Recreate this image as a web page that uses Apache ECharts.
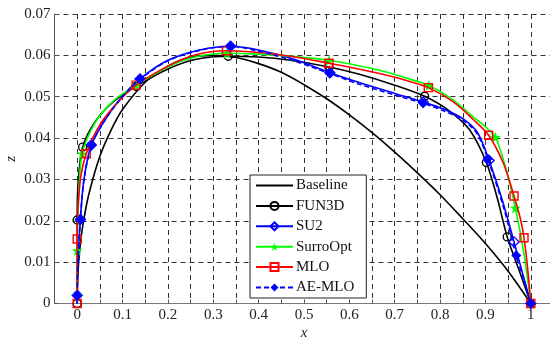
<!DOCTYPE html>
<html>
<head>
<meta charset="utf-8">
<script src="https://cdn.jsdelivr.net/npm/echarts@6/dist/echarts.min.js"></script>
<style>html,body{margin:0;padding:0;background:#fff}#c{width:550px;height:343px}</style>
</head>
<body>
<div id="c"></div>
<script>
// ---- data ----
const seriesNames = ['Baseline', 'FUN3D', 'SU2', 'SurroOpt', 'MLO', 'AE-MLO'];

const baselineX = [0, 0.00125, 0.0025, 0.005, 0.0075, 0.0125, 0.025, 0.05, 0.075, 0.1, 0.15, 0.2, 0.25, 0.3, 0.35, 0.4, 0.45, 0.5, 0.55, 0.6, 0.65, 0.7, 0.75, 0.8, 0.85, 0.9, 0.95, 1];
const baselineZ = [0, 0.0062, 0.0087, 0.0122, 0.0149, 0.0189, 0.0261, 0.0356, 0.0420, 0.0469, 0.0535, 0.0574, 0.0596, 0.0600, 0.0595, 0.0580, 0.0559, 0.0529, 0.0495, 0.0456, 0.0413, 0.0366, 0.0316, 0.0263, 0.0205, 0.0145, 0.0078, 0];

const fun3dX = [0, 0, 0, 0.002, 0.012, 0.04, 0.08, 0.13, 0.2, 0.26, 0.333, 0.4, 0.47, 0.555, 0.62, 0.7, 0.766, 0.82, 0.865, 0.902, 0.926, 0.948, 0.975, 1];
const fun3dZ = [0, 0.01, 0.0202, 0.029, 0.0378, 0.0440, 0.0488, 0.0525, 0.0567, 0.0590, 0.0598, 0.0596, 0.0588, 0.0572, 0.0555, 0.0528, 0.0501, 0.0466, 0.0420, 0.0341, 0.0255, 0.0161, 0.0078, 0];
const fun3dMarks = [0, 2, 4, 7, 10, 13, 16, 19, 21, 23];

const su2X = [0, 0, 0.002, 0.007, 0.015, 0.031, 0.06, 0.095, 0.1385, 0.2, 0.27, 0.338, 0.4, 0.48, 0.557, 0.62, 0.7, 0.7626, 0.81, 0.85, 0.882, 0.908, 0.937, 0.963, 0.983, 1];
const su2Z = [0, 0.002, 0.011, 0.0203, 0.0300, 0.0383, 0.0442, 0.0495, 0.0543, 0.0588, 0.0613, 0.0622, 0.0613, 0.0590, 0.0558, 0.0535, 0.0508, 0.0487, 0.0469, 0.0447, 0.0414, 0.0346, 0.0250, 0.0149, 0.0068, 0];
const su2Marks = [1, 3, 5, 8, 11, 14, 17, 21, 23, 25];

const surroX = [0, 0, 0, 0.003, 0.011, 0.04, 0.08, 0.13, 0.2, 0.26, 0.33, 0.4, 0.48, 0.555, 0.62, 0.667, 0.72, 0.775, 0.83, 0.872, 0.9, 0.922, 0.945, 0.966, 0.985, 1];
const surroZ = [0, 0.002, 0.0128, 0.025, 0.0362, 0.0438, 0.0490, 0.0528, 0.0572, 0.0596, 0.0605, 0.0603, 0.0597, 0.0588, 0.0575, 0.0564, 0.0547, 0.0527, 0.0491, 0.0452, 0.0427, 0.0402, 0.0327, 0.0231, 0.0120, 0];
const surroMarks = [1, 2, 4, 7, 10, 13, 17, 21, 23, 25];

const mloX = [0, 0, 0.006, 0.02, 0.05, 0.09, 0.13, 0.2, 0.26, 0.329, 0.4, 0.48, 0.555, 0.62, 0.667, 0.72, 0.774, 0.83, 0.873, 0.907, 0.94, 0.963, 0.977, 0.985, 0.993, 1];
const mloZ = [0, 0.0156, 0.029, 0.0362, 0.0432, 0.0487, 0.0528, 0.0574, 0.0601, 0.0611, 0.0607, 0.0596, 0.0581, 0.0567, 0.0556, 0.0541, 0.0522, 0.0487, 0.0445, 0.0407, 0.0338, 0.0260, 0.0205, 0.0159, 0.0085, 0];
const mloMarks = [0, 1, 3, 6, 9, 12, 16, 19, 21, 23, 25];

const aeX = [0, 0, 0.002, 0.007, 0.015, 0.032, 0.06, 0.095, 0.1385, 0.2, 0.27, 0.338, 0.4, 0.48, 0.557, 0.62, 0.7, 0.7626, 0.81, 0.85, 0.88, 0.905, 0.94, 0.968, 0.985, 1];
const aeZ = [0, 0.0019, 0.011, 0.0203, 0.0300, 0.0383, 0.0441, 0.0494, 0.0542, 0.0587, 0.0612, 0.0622, 0.0610, 0.0586, 0.0556, 0.0531, 0.0504, 0.0484, 0.0465, 0.0443, 0.0413, 0.0350, 0.0232, 0.0116, 0.0055, 0];
const aeMarks = [1, 3, 5, 8, 11, 14, 17, 21, 23, 25];

// ---- chart ----
const FONT = '"Liberation Serif", "DejaVu Serif", serif';
const STAR = 'path://M0,-10 L2.35,-3.24 L9.51,-3.09 L3.8,1.24 L5.88,8.09 L0,4 L-5.88,8.09 L-3.8,1.24 L-9.51,-3.09 L-2.35,-3.24 Z';
const LINE_ICON = 'path://M0,0 L0,0.01 L0.01,0.01 Z M0,4.1 L37,4.1 L37,5.9 L0,5.9 Z M36.99,9.99 L37,10 L36.99,10 Z';

function build(name, xs, zs, marks, opts) {
  const data = xs.map((x, i) => {
    const item = { value: [x, zs[i]] };
    if (!marks || marks.indexOf(i) < 0) item.symbol = 'none';
    return item;
  });
  return {
    name: name,
    type: 'line',
    data: data,
    smooth: 0.3,
    clip: false,
    showSymbol: true,
    symbol: opts.symbol || 'none',
    symbolSize: opts.size || 8,
    z: opts.z,
    lineStyle: { color: opts.color, width: 1.6, type: opts.dashed ? [5, 3] : 'solid' },
    itemStyle: {
      color: opts.filled ? opts.color : 'rgba(255,255,255,0)',
      borderColor: opts.color,
      borderWidth: opts.filled ? 0 : 1.4
    },
    emphasis: { disabled: true },
    animation: false
  };
}

const isTenth = v => Math.abs(Math.round(v * 10) - v * 10) < 1e-6;

const chart = echarts.init(document.getElementById('c'), null, { renderer: 'canvas' });
chart.setOption({
  animation: false,
  backgroundColor: '#fff',
  grid: { left: 54.5, right: -3.5, top: 14, bottom: 39.5, containLabel: false, outerBoundsMode: 'none' },
  xAxis: {
    type: 'value', min: -0.05, max: 1.05, interval: 0.05,
    name: 'x', nameLocation: 'middle', nameGap: 22, nameMoveOverlap: false,
    nameTextStyle: { fontFamily: FONT, fontSize: 15, fontStyle: 'italic', color: '#222' },
    axisLine: { show: true, onZero: false, lineStyle: { color: '#777', width: 1 } },
    axisTick: { show: true, inside: true, length: 4, lineStyle: { color: '#555' }, interval: (i, v) => isTenth(Number(v)) && Number(v) >= 0 && Number(v) <= 1 },
    axisLabel: {
      fontFamily: FONT, fontSize: 15, color: '#222', margin: 4,
      showMinLabel: false, showMaxLabel: false,
      formatter: v => (isTenth(v) && v >= -1e-9 && v <= 1 + 1e-9) ? String(Math.round(v * 10) / 10) : ''
    },
    splitLine: {
      show: true,
      interval: (i, v) => isTenth(Number(v)) && Number(v) >= -1e-9,
      lineStyle: { color: '#333', width: 1, type: [5, 4] }
    }
  },
  yAxis: {
    type: 'value', min: 0, max: 0.07, interval: 0.01,
    name: 'z', nameLocation: 'middle', nameGap: 36, nameRotate: 90, nameMoveOverlap: false,
    nameTextStyle: { fontFamily: FONT, fontSize: 15, fontStyle: 'italic', color: '#222' },
    axisLine: { show: true, onZero: false, lineStyle: { color: '#555', width: 1 } },
    axisTick: { show: true, inside: true, length: 4, lineStyle: { color: '#555' } },
    axisLabel: {
      fontFamily: FONT, fontSize: 15, color: '#222', margin: 4,
      formatter: v => v === 0 ? '0' : v.toFixed(2)
    },
    splitLine: { show: true, lineStyle: { color: '#333', width: 1, type: [5, 4] } }
  },
  legend: {
    data: [{ name: 'Baseline', icon: LINE_ICON }, 'FUN3D', 'SU2', 'SurroOpt', 'MLO', 'AE-MLO'],
    orient: 'vertical',
    left: 250, top: 175,
    padding: [3, 12, 3, 5],
    itemWidth: 37, itemHeight: 10, itemGap: 5.4,
    backgroundColor: '#fff',
    borderColor: '#222', borderWidth: 1, borderRadius: 0,
    textStyle: { fontFamily: FONT, fontSize: 15, color: '#111', padding: [0, 0, 0, -2] },
    selectedMode: false
  },
  series: [
    build('Baseline', baselineX, baselineZ, null, { color: '#000', filled: true, z: 2 }),
    build('FUN3D', fun3dX, fun3dZ, fun3dMarks, { color: '#000', symbol: 'circle', size: 8, z: 3 }),
    build('SU2', su2X, su2Z, su2Marks, { color: '#0000ff', symbol: 'diamond', size: 10, z: 4 }),
    build('SurroOpt', surroX, surroZ, surroMarks, { color: '#00ff00', symbol: STAR, size: 11, filled: true, z: 5 }),
    build('MLO', mloX, mloZ, mloMarks, { color: '#ff0000', symbol: 'rect', size: 8, z: 6 }),
    build('AE-MLO', aeX, aeZ, aeMarks, { color: '#0000ff', symbol: 'diamond', size: 10, filled: true, dashed: true, z: 7 })
  ]
});
</script>
</body>
</html>
